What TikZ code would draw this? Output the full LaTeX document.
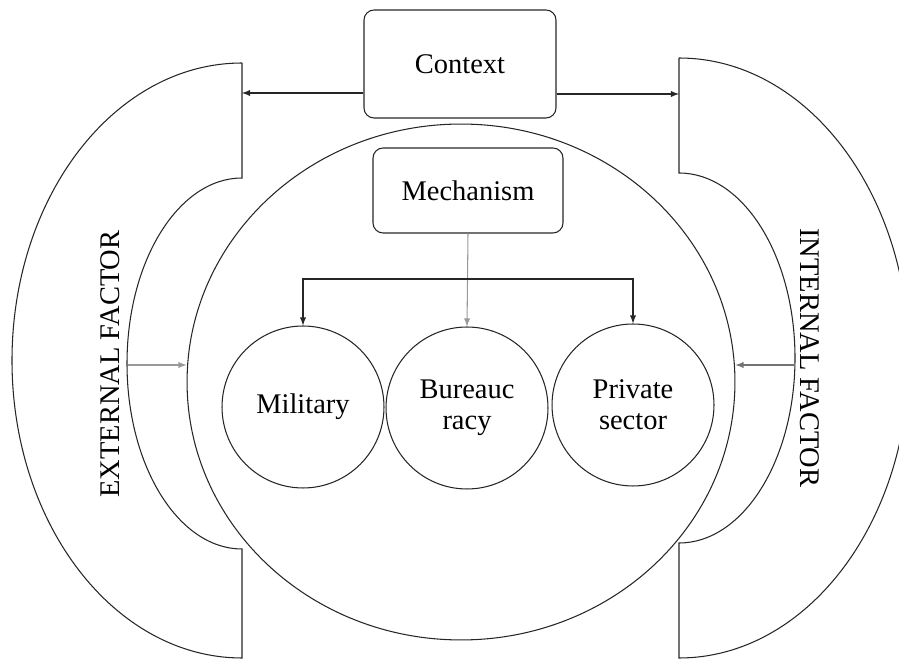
\documentclass[tikz,border=0pt]{standalone}
\usepackage{fontspec}
\setmainfont{Liberation Serif}
\usetikzlibrary{shapes.geometric}

\tikzset{
  roundbox/.style={draw, rounded corners=0.2cm, align=center},
  actor/.style={draw, circle, minimum size=3.24cm, inner sep=0pt, align=center},
  feed/.style={>=latex, ->},
}

\begin{document}
\begin{tikzpicture}[x=0.02cm, y=-0.02cm, line width=0.6pt, draw=black!85,
  font=\fontsize{16.2}{17.5}\selectfont]
    \clip (0,0) rectangle (899,661);

%% outer factors
    \draw (242,63) -- (242,178)
        arc[start angle=-90, end angle=-270, x radius=115, y radius=185.5]
        -- (242,658)
        arc[start angle=90, end angle=270, x radius=230, y radius=297.5];
    \draw (679,58) -- (679,173)
        arc[start angle=-90, end angle=90, x radius=116, y radius=185]
        -- (679,658)
        arc[start angle=90, end angle=-90, x radius=230, y radius=300];
    \node[rotate=90]  (ext) at (110,364) {EXTERNAL FACTOR};
    \node[rotate=-90] (int) at (810,358) {INTERNAL FACTOR};

%% core
    \node[draw, ellipse, minimum width=10.96cm, minimum height=10.32cm] (core) at (461,382) {};
    \node[roundbox, minimum width=3.84cm, minimum height=2.16cm] (ctx) at (460,64) {Context};
    \node[roundbox, minimum width=3.8cm, minimum height=1.7cm] (mech) at (468,190.5) {Mechanism};

    \node[actor] (mil)  at (303,407) {Military};
    \node[actor] (bur)  at (467,408) {Bureauc\\racy};
    \node[actor] (priv) at (633,405) {Private\\sector};

%% links
    \coordinate (extTop) at (242,93);
    \coordinate (intTop) at (679,94);
    \coordinate (extIn)  at (128,365);
    \coordinate (intIn)  at (795,365);
    \coordinate (split)  at (468,279);

    \draw[feed] (ctx.west |- extTop) to (extTop);
    \draw[feed] (ctx.east |- intTop) to (intTop);
    \draw[feed, draw=black!40] (extIn) to (core.west |- extIn);
    \draw[feed, draw=black!55] (intIn) to (core.east |- intIn);

    \draw[feed, draw=black!40] (mech.south) to (bur.north);
    \draw[feed] (split) -| (mil.north);
    \draw[feed] (split) -| (priv.north);

\end{tikzpicture}
\end{document}
